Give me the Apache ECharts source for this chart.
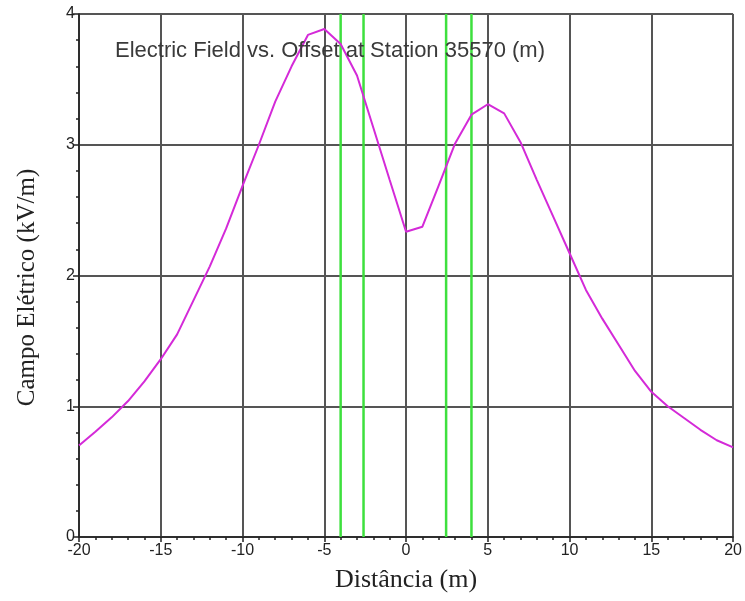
<!DOCTYPE html>
<html>
<head>
<meta charset="utf-8">
<script src="https://cdn.jsdelivr.net/npm/echarts@6/dist/echarts.min.js"></script>
<style>html,body{margin:0;padding:0;background:#fff}#c{width:745px;height:601px}</style>
</head>
<body>
<div id="c"></div>
<script>
var offsets = [-20,-19,-18,-17,-16,-15,-14,-13,-12,-11,-10,-9,-8,-7,-6,-5,-4,-3,-2,-1,0,1,2,3,4,5,6,7,8,9,10,11,12,13,14,15,16,17,18,19,20];
var field = [0.70,0.805,0.915,1.04,1.19,1.36,1.55,1.81,2.07,2.36,2.685,3.0,3.33,3.60,3.84,3.885,3.77,3.53,3.13,2.73,2.335,2.373,2.69,3.01,3.23,3.31,3.24,3.02,2.73,2.45,2.17,1.89,1.67,1.47,1.27,1.11,1.00,0.91,0.82,0.74,0.685];
var greenX = [-4, -2.6, 2.45, 4];
var xTicks = [-20,-15,-10,-5,0,5,10,15,20];
var yTicks = [0,1,2,3,4];
var titleText = 'Electric Field vs. Offset at Station 35570 (m)';
var xName = 'Distância (m)';
var yName = 'Campo Elétrico (kV/m)';

var chart = echarts.init(document.getElementById('c'));
var series = [];
greenX.forEach(function (gx) {
  series.push({
    type: 'line', data: [[gx, yTicks[0]], [gx, yTicks[yTicks.length - 1]]],
    symbol: 'none', lineStyle: { color: '#3ee03e', width: 2.5 }, z: 3, silent: true
  });
});
series.push({
  type: 'line',
  data: offsets.map(function (x, i) { return [x, field[i]]; }),
  symbol: 'none', lineStyle: { color: '#d42ad8', width: 2 }, z: 4
});
chart.setOption({
  animation: false,
  backgroundColor: '#fff',
  title: {
    text: titleText, left: 110, top: 35,
    textStyle: { fontFamily: 'Liberation Sans', fontSize: 22, fontWeight: 'normal', color: '#3a3a3a' }
  },
  grid: { left: 79, right: 10, top: 14, bottom: 64 },
  xAxis: {
    type: 'value', min: xTicks[0], max: xTicks[xTicks.length - 1], interval: 5,
    name: xName, nameLocation: 'middle', nameGap: 30,
    nameTextStyle: { fontFamily: 'Liberation Serif', fontSize: 26, color: '#222' },
    axisLine: { onZero: false, lineStyle: { color: '#222', width: 1.5 } },
    axisTick: { show: true, inside: false, length: 5, lineStyle: { color: '#222', width: 1.5 } },
    minorTick: { show: true, splitNumber: 5, length: 3, lineStyle: { color: '#222', width: 1.5 } },
    axisLabel: { fontFamily: 'Liberation Sans', fontSize: 16, color: '#222', margin: 6 },
    splitLine: { show: true, lineStyle: { color: '#555', width: 2 } }
  },
  yAxis: {
    type: 'value', min: yTicks[0], max: yTicks[yTicks.length - 1], interval: 1,
    name: yName, nameLocation: 'middle', nameGap: 39,
    nameTextStyle: { fontFamily: 'Liberation Serif', fontSize: 25, color: '#222', padding: [0, 24, 0, 0] },
    axisLine: { show: true, onZero: false, lineStyle: { color: '#222', width: 1.5 } },
    axisTick: { show: true, inside: false, length: 6, lineStyle: { color: '#222', width: 1.5 } },
    minorTick: { show: true, splitNumber: 5, length: 3, lineStyle: { color: '#222', width: 1.5 } },
    axisLabel: { fontFamily: 'Liberation Sans', fontSize: 16, color: '#222', margin: 4 },
    splitLine: { show: true, lineStyle: { color: '#555', width: 2 } }
  },
  series: series
});
</script>
</body>
</html>
